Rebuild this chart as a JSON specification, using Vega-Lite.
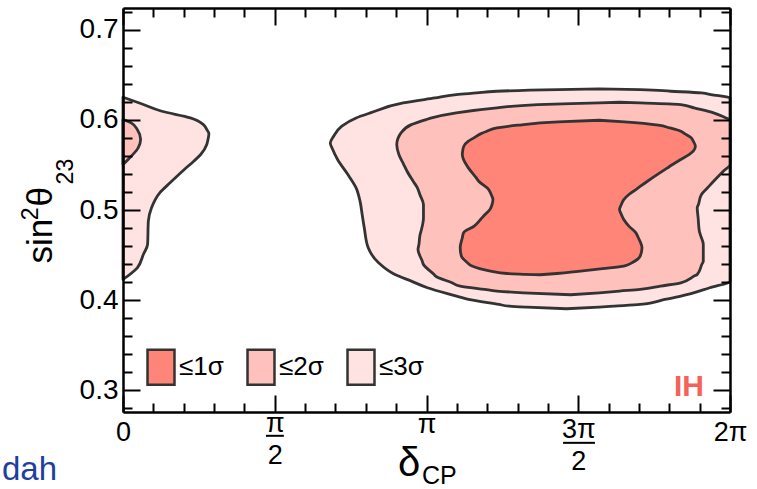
{
  "$schema": "https://vega.github.io/schema/vega-lite/v6.json",
  "width": 607,
  "height": 404,
  "autosize": "none",
  "padding": {"left": 123, "top": 8, "right": 27, "bottom": 77},
  "background": "white",
  "config": {
    "font": "Liberation Sans",
    "view": {"stroke": null}
  },
  "datasets": {
    "contours": [
      {"level": "≤3σ", "part": "M3", "s": 0.6343, "lo": 1.569, "hi": 1.569},
      {"level": "≤3σ", "part": "M3", "s": 0.6335, "lo": 1.434, "hi": 1.704},
      {"level": "≤3σ", "part": "M3", "s": 0.6317, "lo": 1.232, "hi": 1.805},
      {"level": "≤3σ", "part": "M3", "s": 0.6298, "lo": 1.165, "hi": 1.906},
      {"level": "≤3σ", "part": "M3", "s": 0.6280, "lo": 1.098, "hi": 1.937},
      {"level": "≤3σ", "part": "M3", "s": 0.6243, "lo": 1.028, "hi": 2.0},
      {"level": "≤3σ", "part": "M3", "s": 0.6187, "lo": 0.923, "hi": 2.0},
      {"level": "≤3σ", "part": "M3", "s": 0.6077, "lo": 0.815, "hi": 2.0},
      {"level": "≤3σ", "part": "M3", "s": 0.6021, "lo": 0.768, "hi": 2.0},
      {"level": "≤3σ", "part": "M3", "s": 0.5929, "lo": 0.721, "hi": 2.0},
      {"level": "≤3σ", "part": "M3", "s": 0.5818, "lo": 0.694, "hi": 2.0},
      {"level": "≤3σ", "part": "M3", "s": 0.5744, "lo": 0.683, "hi": 2.0},
      {"level": "≤3σ", "part": "M3", "s": 0.5670, "lo": 0.691, "hi": 2.0},
      {"level": "≤3σ", "part": "M3", "s": 0.5560, "lo": 0.707, "hi": 2.0},
      {"level": "≤3σ", "part": "M3", "s": 0.5393, "lo": 0.741, "hi": 2.0},
      {"level": "≤3σ", "part": "M3", "s": 0.5246, "lo": 0.768, "hi": 2.0},
      {"level": "≤3σ", "part": "M3", "s": 0.5098, "lo": 0.781, "hi": 2.0},
      {"level": "≤3σ", "part": "M3", "s": 0.4950, "lo": 0.788, "hi": 2.0},
      {"level": "≤3σ", "part": "M3", "s": 0.4802, "lo": 0.795, "hi": 2.0},
      {"level": "≤3σ", "part": "M3", "s": 0.4581, "lo": 0.808, "hi": 2.0},
      {"level": "≤3σ", "part": "M3", "s": 0.4415, "lo": 0.842, "hi": 2.0},
      {"level": "≤3σ", "part": "M3", "s": 0.4285, "lo": 0.896, "hi": 2.0},
      {"level": "≤3σ", "part": "M3", "s": 0.4211, "lo": 0.950, "hi": 2.0},
      {"level": "≤3σ", "part": "M3", "s": 0.4138, "lo": 1.003, "hi": 1.933},
      {"level": "≤3σ", "part": "M3", "s": 0.4045, "lo": 1.099, "hi": 1.838},
      {"level": "≤3σ", "part": "M3", "s": 0.4008, "lo": 1.138, "hi": 1.785},
      {"level": "≤3σ", "part": "M3", "s": 0.3953, "lo": 1.239, "hi": 1.704},
      {"level": "≤3σ", "part": "M3", "s": 0.3934, "lo": 1.273, "hi": 1.619},
      {"level": "≤3σ", "part": "M3", "s": 0.3923, "lo": 1.331, "hi": 1.569},
      {"level": "≤3σ", "part": "M3", "s": 0.3905, "lo": 1.461, "hi": 1.461},

      {"level": "≤3σ", "part": "L3", "s": 0.6250, "lo": 0, "hi": 0},
      {"level": "≤3σ", "part": "L3", "s": 0.6187, "lo": 0, "hi": 0.054},
      {"level": "≤3σ", "part": "L3", "s": 0.6095, "lo": 0, "hi": 0.128},
      {"level": "≤3σ", "part": "L3", "s": 0.6021, "lo": 0, "hi": 0.222},
      {"level": "≤3σ", "part": "L3", "s": 0.5947, "lo": 0, "hi": 0.265},
      {"level": "≤3σ", "part": "L3", "s": 0.5892, "lo": 0, "hi": 0.276},
      {"level": "≤3σ", "part": "L3", "s": 0.5848, "lo": 0, "hi": 0.283},
      {"level": "≤3σ", "part": "L3", "s": 0.5781, "lo": 0, "hi": 0.280},
      {"level": "≤3σ", "part": "L3", "s": 0.5726, "lo": 0, "hi": 0.276},
      {"level": "≤3σ", "part": "L3", "s": 0.5615, "lo": 0, "hi": 0.256},
      {"level": "≤3σ", "part": "L3", "s": 0.5541, "lo": 0, "hi": 0.233},
      {"level": "≤3σ", "part": "L3", "s": 0.5449, "lo": 0, "hi": 0.202},
      {"level": "≤3σ", "part": "L3", "s": 0.5301, "lo": 0, "hi": 0.155},
      {"level": "≤3σ", "part": "L3", "s": 0.5190, "lo": 0, "hi": 0.121},
      {"level": "≤3σ", "part": "L3", "s": 0.5024, "lo": 0, "hi": 0.094},
      {"level": "≤3σ", "part": "L3", "s": 0.4876, "lo": 0, "hi": 0.0835},
      {"level": "≤3σ", "part": "L3", "s": 0.4618, "lo": 0, "hi": 0.081},
      {"level": "≤3σ", "part": "L3", "s": 0.4507, "lo": 0, "hi": 0.067},
      {"level": "≤3σ", "part": "L3", "s": 0.4359, "lo": 0, "hi": 0.047},
      {"level": "≤3σ", "part": "L3", "s": 0.4230, "lo": 0, "hi": 0},

      {"level": "≤2σ", "part": "M2", "s": 0.6195, "lo": 1.636, "hi": 1.636},
      {"level": "≤2σ", "part": "M2", "s": 0.6187, "lo": 1.569, "hi": 1.704},
      {"level": "≤2σ", "part": "M2", "s": 0.6169, "lo": 1.367, "hi": 1.838},
      {"level": "≤2σ", "part": "M2", "s": 0.6132, "lo": 1.232, "hi": 1.882},
      {"level": "≤2σ", "part": "M2", "s": 0.6077, "lo": 1.098, "hi": 1.946},
      {"level": "≤2σ", "part": "M2", "s": 0.6021, "lo": 1.017, "hi": 1.987},
      {"level": "≤2σ", "part": "M2", "s": 0.6003, "lo": 0.999, "hi": 2.0},
      {"level": "≤2σ", "part": "M2", "s": 0.5947, "lo": 0.950, "hi": 2.0},
      {"level": "≤2σ", "part": "M2", "s": 0.5855, "lo": 0.916, "hi": 2.0},
      {"level": "≤2σ", "part": "M2", "s": 0.5726, "lo": 0.902, "hi": 2.0},
      {"level": "≤2σ", "part": "M2", "s": 0.5615, "lo": 0.909, "hi": 2.0},
      {"level": "≤2σ", "part": "M2", "s": 0.5504, "lo": 0.925, "hi": 2.0},
      {"level": "≤2σ", "part": "M2", "s": 0.5430, "lo": 0.936, "hi": 1.978},
      {"level": "≤2σ", "part": "M2", "s": 0.5319, "lo": 0.956, "hi": 1.946},
      {"level": "≤2σ", "part": "M2", "s": 0.5246, "lo": 0.970, "hi": 1.926},
      {"level": "≤2σ", "part": "M2", "s": 0.5172, "lo": 0.978, "hi": 1.906},
      {"level": "≤2σ", "part": "M2", "s": 0.5061, "lo": 0.990, "hi": 1.896},
      {"level": "≤2σ", "part": "M2", "s": 0.5024, "lo": 0.990, "hi": 1.892},
      {"level": "≤2σ", "part": "M2", "s": 0.4913, "lo": 0.990, "hi": 1.895},
      {"level": "≤2σ", "part": "M2", "s": 0.4765, "lo": 0.982, "hi": 1.899},
      {"level": "≤2σ", "part": "M2", "s": 0.4729, "lo": 0.979, "hi": 1.902},
      {"level": "≤2σ", "part": "M2", "s": 0.4618, "lo": 0.975, "hi": 1.912},
      {"level": "≤2σ", "part": "M2", "s": 0.4562, "lo": 0.972, "hi": 1.912},
      {"level": "≤2σ", "part": "M2", "s": 0.4433, "lo": 0.986, "hi": 1.912},
      {"level": "≤2σ", "part": "M2", "s": 0.4396, "lo": 0.990, "hi": 1.907},
      {"level": "≤2σ", "part": "M2", "s": 0.4285, "lo": 1.025, "hi": 1.892},
      {"level": "≤2σ", "part": "M2", "s": 0.4267, "lo": 1.030, "hi": 1.882},
      {"level": "≤2σ", "part": "M2", "s": 0.4193, "lo": 1.084, "hi": 1.838},
      {"level": "≤2σ", "part": "M2", "s": 0.4156, "lo": 1.111, "hi": 1.771},
      {"level": "≤2σ", "part": "M2", "s": 0.4119, "lo": 1.192, "hi": 1.704},
      {"level": "≤2σ", "part": "M2", "s": 0.4101, "lo": 1.232, "hi": 1.636},
      {"level": "≤2σ", "part": "M2", "s": 0.4082, "lo": 1.320, "hi": 1.569},
      {"level": "≤2σ", "part": "M2", "s": 0.4060, "lo": 1.475, "hi": 1.475},

      {"level": "≤2σ", "part": "L2", "s": 0.6003, "lo": 0, "hi": 0},
      {"level": "≤2σ", "part": "L2", "s": 0.5966, "lo": 0, "hi": 0.027},
      {"level": "≤2σ", "part": "L2", "s": 0.5892, "lo": 0, "hi": 0.047},
      {"level": "≤2σ", "part": "L2", "s": 0.5781, "lo": 0, "hi": 0.058},
      {"level": "≤2σ", "part": "L2", "s": 0.5689, "lo": 0, "hi": 0.050},
      {"level": "≤2σ", "part": "L2", "s": 0.5596, "lo": 0, "hi": 0.027},
      {"level": "≤2σ", "part": "L2", "s": 0.5504, "lo": 0, "hi": 0},

      {"level": "≤1σ", "part": "M1", "s": 0.5995, "lo": 1.569, "hi": 1.569},
      {"level": "≤1σ", "part": "M1", "s": 0.5977, "lo": 1.434, "hi": 1.653},
      {"level": "≤1σ", "part": "M1", "s": 0.5940, "lo": 1.300, "hi": 1.764},
      {"level": "≤1σ", "part": "M1", "s": 0.5910, "lo": 1.232, "hi": 1.802},
      {"level": "≤1σ", "part": "M1", "s": 0.5873, "lo": 1.199, "hi": 1.838},
      {"level": "≤1σ", "part": "M1", "s": 0.5844, "lo": 1.178, "hi": 1.852},
      {"level": "≤1σ", "part": "M1", "s": 0.5800, "lo": 1.156, "hi": 1.872},
      {"level": "≤1σ", "part": "M1", "s": 0.5763, "lo": 1.138, "hi": 1.879},
      {"level": "≤1σ", "part": "M1", "s": 0.5707, "lo": 1.123, "hi": 1.886},
      {"level": "≤1σ", "part": "M1", "s": 0.5652, "lo": 1.119, "hi": 1.879},
      {"level": "≤1σ", "part": "M1", "s": 0.5615, "lo": 1.118, "hi": 1.865},
      {"level": "≤1σ", "part": "M1", "s": 0.5560, "lo": 1.122, "hi": 1.838},
      {"level": "≤1σ", "part": "M1", "s": 0.5504, "lo": 1.131, "hi": 1.811},
      {"level": "≤1σ", "part": "M1", "s": 0.5467, "lo": 1.138, "hi": 1.794},
      {"level": "≤1σ", "part": "M1", "s": 0.5356, "lo": 1.164, "hi": 1.744},
      {"level": "≤1σ", "part": "M1", "s": 0.5319, "lo": 1.172, "hi": 1.728},
      {"level": "≤1σ", "part": "M1", "s": 0.5227, "lo": 1.205, "hi": 1.690},
      {"level": "≤1σ", "part": "M1", "s": 0.5172, "lo": 1.213, "hi": 1.667},
      {"level": "≤1σ", "part": "M1", "s": 0.5116, "lo": 1.219, "hi": 1.650},
      {"level": "≤1σ", "part": "M1", "s": 0.5061, "lo": 1.216, "hi": 1.642},
      {"level": "≤1σ", "part": "M1", "s": 0.5006, "lo": 1.209, "hi": 1.636},
      {"level": "≤1σ", "part": "M1", "s": 0.4950, "lo": 1.193, "hi": 1.642},
      {"level": "≤1σ", "part": "M1", "s": 0.4895, "lo": 1.178, "hi": 1.650},
      {"level": "≤1σ", "part": "M1", "s": 0.4821, "lo": 1.157, "hi": 1.667},
      {"level": "≤1σ", "part": "M1", "s": 0.4747, "lo": 1.122, "hi": 1.690},
      {"level": "≤1σ", "part": "M1", "s": 0.4692, "lo": 1.118, "hi": 1.698},
      {"level": "≤1σ", "part": "M1", "s": 0.4581, "lo": 1.111, "hi": 1.710},
      {"level": "≤1σ", "part": "M1", "s": 0.4488, "lo": 1.115, "hi": 1.704},
      {"level": "≤1σ", "part": "M1", "s": 0.4415, "lo": 1.135, "hi": 1.677},
      {"level": "≤1σ", "part": "M1", "s": 0.4378, "lo": 1.150, "hi": 1.650},
      {"level": "≤1σ", "part": "M1", "s": 0.4350, "lo": 1.175, "hi": 1.580},
      {"level": "≤1σ", "part": "M1", "s": 0.4320, "lo": 1.215, "hi": 1.500},
      {"level": "≤1σ", "part": "M1", "s": 0.4296, "lo": 1.265, "hi": 1.430},
      {"level": "≤1σ", "part": "M1", "s": 0.4282, "lo": 1.374, "hi": 1.374}
    ],
    "fractionBars": [
      {"from": 0.471, "to": 0.530, "s": 0.2496},
      {"from": 1.450, "to": 1.555, "s": 0.2418}
    ],
    "yTitle": [
      {"piece": "sin", "d": -0.2339, "s": 0.4407, "size": "main"},
      {"piece": "2", "d": -0.2801, "s": 0.4885, "size": "script"},
      {"piece": "θ", "d": -0.2339, "s": 0.5040, "size": "main"},
      {"piece": "23", "d": -0.1647, "s": 0.5284, "size": "script"}
    ]
  },
  "resolve": {"axis": {"x": "independent", "y": "independent"}},
  "layer": [
    {
      "data": {"name": "contours"},
      "transform": [{"filter": "datum.part === 'M3'"}],
      "mark": {"type": "area", "orient": "horizontal", "interpolate": "monotone", "stroke": "#333333", "strokeWidth": 2.8, "strokeJoin": "round"},
      "encoding": {
        "y": {
          "field": "s", "type": "quantitative",
          "scale": {"domain": [0.276, 0.724], "nice": false, "zero": false},
          "axis": {
            "orient": "left", "zindex": 1, "grid": false,
            "values": [0.28, 0.3, 0.32, 0.34, 0.36, 0.38, 0.4, 0.42, 0.44, 0.46, 0.48, 0.5, 0.52, 0.54, 0.56, 0.58, 0.6, 0.62, 0.64, 0.66, 0.68, 0.7, 0.72],
            "tickSize": {"condition": {"test": "abs(datum.value * 10 - round(datum.value * 10)) < 0.001", "value": -17}, "value": -9},
            "tickWidth": 2, "tickColor": "black",
            "domainColor": "black", "domainWidth": 2.5,
            "labelExpr": "abs(datum.value * 10 - round(datum.value * 10)) < 0.001 ? format(datum.value, '.1f') : ''",
            "labelFont": "Liberation Sans", "labelFontSize": 28, "labelColor": "black",
            "labelPadding": 22, "labelOverlap": false, "labelFlush": false, "labelBaseline": "middle",
            "title": null
          }
        },
        "x": {
          "field": "lo", "type": "quantitative",
          "scale": {"domain": [0, 2], "nice": false, "zero": false},
          "axis": {
            "orient": "bottom", "zindex": 1, "grid": false,
            "values": [0, 0.1, 0.2, 0.3, 0.4, 0.5, 0.6, 0.7, 0.8, 0.9, 1, 1.1, 1.2, 1.3, 1.4, 1.5, 1.6, 1.7, 1.8, 1.9, 2],
            "tickSize": {"condition": {"test": "abs(datum.value * 2 - round(datum.value * 2)) < 0.001", "value": -17}, "value": -9},
            "tickWidth": 2, "tickColor": "black",
            "domainColor": "black", "domainWidth": 2.5,
            "labelExpr": "datum.value == 0 ? '0' : datum.value == 0.5 ? ['\u03c0', '2'] : datum.value == 1 ? '\u03c0' : datum.value == 1.5 ? ['3\u03c0', '2'] : datum.value == 2 ? '2\u03c0' : ''",
            "labelFont": "Liberation Sans", "labelFontSize": 27, "labelColor": "black",
            "labelPadding": {"expr": "datum.value == 0.5 ? 15 : datum.value == 1.5 ? 21 : datum.value == 1 ? 16 : 24"},
            "labelOverlap": false, "labelFlush": false, "labelBaseline": "top", "labelLineHeight": 32,
            "title": null
          }
        },
        "x2": {"field": "hi"},
        "fill": {
          "field": "level", "type": "nominal",
          "scale": {"domain": ["≤1σ", "≤2σ", "≤3σ"], "range": ["#ff8578", "#ffc1bb", "#ffe3e3"]},
          "legend": {
            "orient": "none", "legendX": 19, "legendY": 340, "direction": "horizontal", "title": null, "padding": 0,
            "symbolType": "M-0.771,-1H0.771V1H-0.771Z", "symbolSize": 1225,
            "symbolStrokeColor": "#333333", "symbolStrokeWidth": 2.5,
            "labelFont": "Liberation Sans", "labelFontSize": 26, "labelColor": "black",
            "labelOffset": -1, "columnPadding": 18
          }
        }
      }
    },
    {
      "data": {"name": "contours"},
      "transform": [{"filter": "datum.part === 'L3'"}],
      "mark": {"type": "area", "orient": "horizontal", "interpolate": "monotone", "stroke": "#333333", "strokeWidth": 2.8, "strokeJoin": "round"},
      "encoding": {
        "y": {
          "field": "s", "type": "quantitative",
          "scale": {"domain": [0.276, 0.724], "nice": false, "zero": false},
          "axis": {
            "orient": "right", "zindex": 1, "grid": false, "labels": false, "title": null,
            "values": [0.28, 0.3, 0.32, 0.34, 0.36, 0.38, 0.4, 0.42, 0.44, 0.46, 0.48, 0.5, 0.52, 0.54, 0.56, 0.58, 0.6, 0.62, 0.64, 0.66, 0.68, 0.7, 0.72],
            "tickSize": {"condition": {"test": "abs(datum.value * 10 - round(datum.value * 10)) < 0.001", "value": -17}, "value": -9},
            "tickWidth": 2, "tickColor": "black",
            "domainColor": "black", "domainWidth": 2.5
          }
        },
        "x": {
          "field": "lo", "type": "quantitative",
          "scale": {"domain": [0, 2], "nice": false, "zero": false},
          "axis": {
            "orient": "top", "zindex": 1, "grid": false, "labels": false, "title": null,
            "values": [0, 0.1, 0.2, 0.3, 0.4, 0.5, 0.6, 0.7, 0.8, 0.9, 1, 1.1, 1.2, 1.3, 1.4, 1.5, 1.6, 1.7, 1.8, 1.9, 2],
            "tickSize": {"condition": {"test": "abs(datum.value * 2 - round(datum.value * 2)) < 0.001", "value": -17}, "value": -9},
            "tickWidth": 2, "tickColor": "black",
            "domainColor": "black", "domainWidth": 2.5
          }
        },
        "x2": {"field": "hi"},
        "fill": {
          "field": "level", "type": "nominal",
          "scale": {"domain": ["≤1σ", "≤2σ", "≤3σ"], "range": ["#ff8578", "#ffc1bb", "#ffe3e3"]}
        }
      }
    },
    {
      "data": {"name": "contours"},
      "transform": [{"filter": "datum.part === 'M2'"}],
      "mark": {"type": "area", "orient": "horizontal", "interpolate": "monotone", "stroke": "#333333", "strokeWidth": 2.8, "strokeJoin": "round"},
      "encoding": {
        "y": {"field": "s", "type": "quantitative", "scale": {"domain": [0.276, 0.724], "nice": false, "zero": false}, "axis": null},
        "x": {"field": "lo", "type": "quantitative", "scale": {"domain": [0, 2], "nice": false, "zero": false}, "axis": null},
        "x2": {"field": "hi"},
        "fill": {
          "field": "level", "type": "nominal",
          "scale": {"domain": ["≤1σ", "≤2σ", "≤3σ"], "range": ["#ff8578", "#ffc1bb", "#ffe3e3"]}
        }
      }
    },
    {
      "data": {"name": "contours"},
      "transform": [{"filter": "datum.part === 'L2'"}],
      "mark": {"type": "area", "orient": "horizontal", "interpolate": "monotone", "stroke": "#333333", "strokeWidth": 2.8, "strokeJoin": "round"},
      "encoding": {
        "y": {"field": "s", "type": "quantitative", "scale": {"domain": [0.276, 0.724], "nice": false, "zero": false}, "axis": null},
        "x": {"field": "lo", "type": "quantitative", "scale": {"domain": [0, 2], "nice": false, "zero": false}, "axis": null},
        "x2": {"field": "hi"},
        "fill": {
          "field": "level", "type": "nominal",
          "scale": {"domain": ["≤1σ", "≤2σ", "≤3σ"], "range": ["#ff8578", "#ffc1bb", "#ffe3e3"]}
        }
      }
    },
    {
      "data": {"name": "contours"},
      "transform": [{"filter": "datum.part === 'M1'"}],
      "mark": {"type": "area", "orient": "horizontal", "interpolate": "monotone", "stroke": "#333333", "strokeWidth": 2.8, "strokeJoin": "round"},
      "encoding": {
        "y": {"field": "s", "type": "quantitative", "scale": {"domain": [0.276, 0.724], "nice": false, "zero": false}, "axis": null},
        "x": {"field": "lo", "type": "quantitative", "scale": {"domain": [0, 2], "nice": false, "zero": false}, "axis": null},
        "x2": {"field": "hi"},
        "fill": {
          "field": "level", "type": "nominal",
          "scale": {"domain": ["≤1σ", "≤2σ", "≤3σ"], "range": ["#ff8578", "#ffc1bb", "#ffe3e3"]}
        }
      }
    },
    {
      "data": {"name": "fractionBars"},
      "mark": {"type": "rule", "stroke": "black", "strokeWidth": 2},
      "encoding": {
        "x": {"field": "from", "type": "quantitative", "scale": {"domain": [0, 2], "nice": false, "zero": false}, "axis": null},
        "x2": {"field": "to"},
        "y": {"field": "s", "type": "quantitative", "scale": {"domain": [0.276, 0.724], "nice": false, "zero": false}, "axis": null}
      }
    },
    {
      "data": {"name": "yTitle"},
      "mark": {"type": "text", "font": "Liberation Sans", "fill": "black", "align": "left", "baseline": "alphabetic", "angle": 270},
      "encoding": {
        "x": {"field": "d", "type": "quantitative", "scale": {"domain": [0, 2], "nice": false, "zero": false}, "axis": null},
        "y": {"field": "s", "type": "quantitative", "scale": {"domain": [0.276, 0.724], "nice": false, "zero": false}, "axis": null},
        "text": {"field": "piece"},
        "size": {"field": "size", "type": "nominal", "scale": {"domain": ["main", "script"], "range": [35, 23]}, "legend": null}
      }
    },
    {
      "data": {"values": [{"tag": "IH"}]},
      "mark": {"type": "text", "font": "Liberation Sans", "fontSize": 30, "fontWeight": "bold", "fill": "#f4625a", "align": "right", "baseline": "alphabetic"},
      "encoding": {
        "text": {"field": "tag"},
        "x": {"datum": 1.914, "type": "quantitative", "scale": {"domain": [0, 2], "nice": false, "zero": false}, "axis": null},
        "y": {"datum": 0.294, "type": "quantitative", "scale": {"domain": [0.276, 0.724], "nice": false, "zero": false}, "axis": null}
      }
    },
    {
      "data": {"values": [{"tag": "δ"}]},
      "mark": {"type": "text", "font": "Liberation Sans", "fontSize": 40, "fill": "black", "align": "left", "baseline": "alphabetic"},
      "encoding": {
        "text": {"field": "tag"},
        "x": {"datum": 0.906, "type": "quantitative", "scale": {"domain": [0, 2], "nice": false, "zero": false}, "axis": null},
        "y": {"datum": 0.2051, "type": "quantitative", "scale": {"domain": [0.276, 0.724], "nice": false, "zero": false}, "axis": null}
      }
    },
    {
      "data": {"values": [{"tag": "CP"}]},
      "mark": {"type": "text", "font": "Liberation Sans", "fontSize": 25, "fill": "black", "align": "left", "baseline": "alphabetic"},
      "encoding": {
        "text": {"field": "tag"},
        "x": {"datum": 0.985, "type": "quantitative", "scale": {"domain": [0, 2], "nice": false, "zero": false}, "axis": null},
        "y": {"datum": 0.1962, "type": "quantitative", "scale": {"domain": [0.276, 0.724], "nice": false, "zero": false}, "axis": null}
      }
    },
    {
      "data": {"values": [{"tag": "dah"}]},
      "mark": {"type": "text", "font": "Liberation Sans", "fontSize": 33, "fill": "#1d3f9e", "align": "right", "baseline": "alphabetic"},
      "encoding": {
        "text": {"field": "tag"},
        "x": {"datum": -0.2175, "type": "quantitative", "scale": {"domain": [0, 2], "nice": false, "zero": false}, "axis": null},
        "y": {"datum": 0.2007, "type": "quantitative", "scale": {"domain": [0.276, 0.724], "nice": false, "zero": false}, "axis": null}
      }
    }
  ]
}
